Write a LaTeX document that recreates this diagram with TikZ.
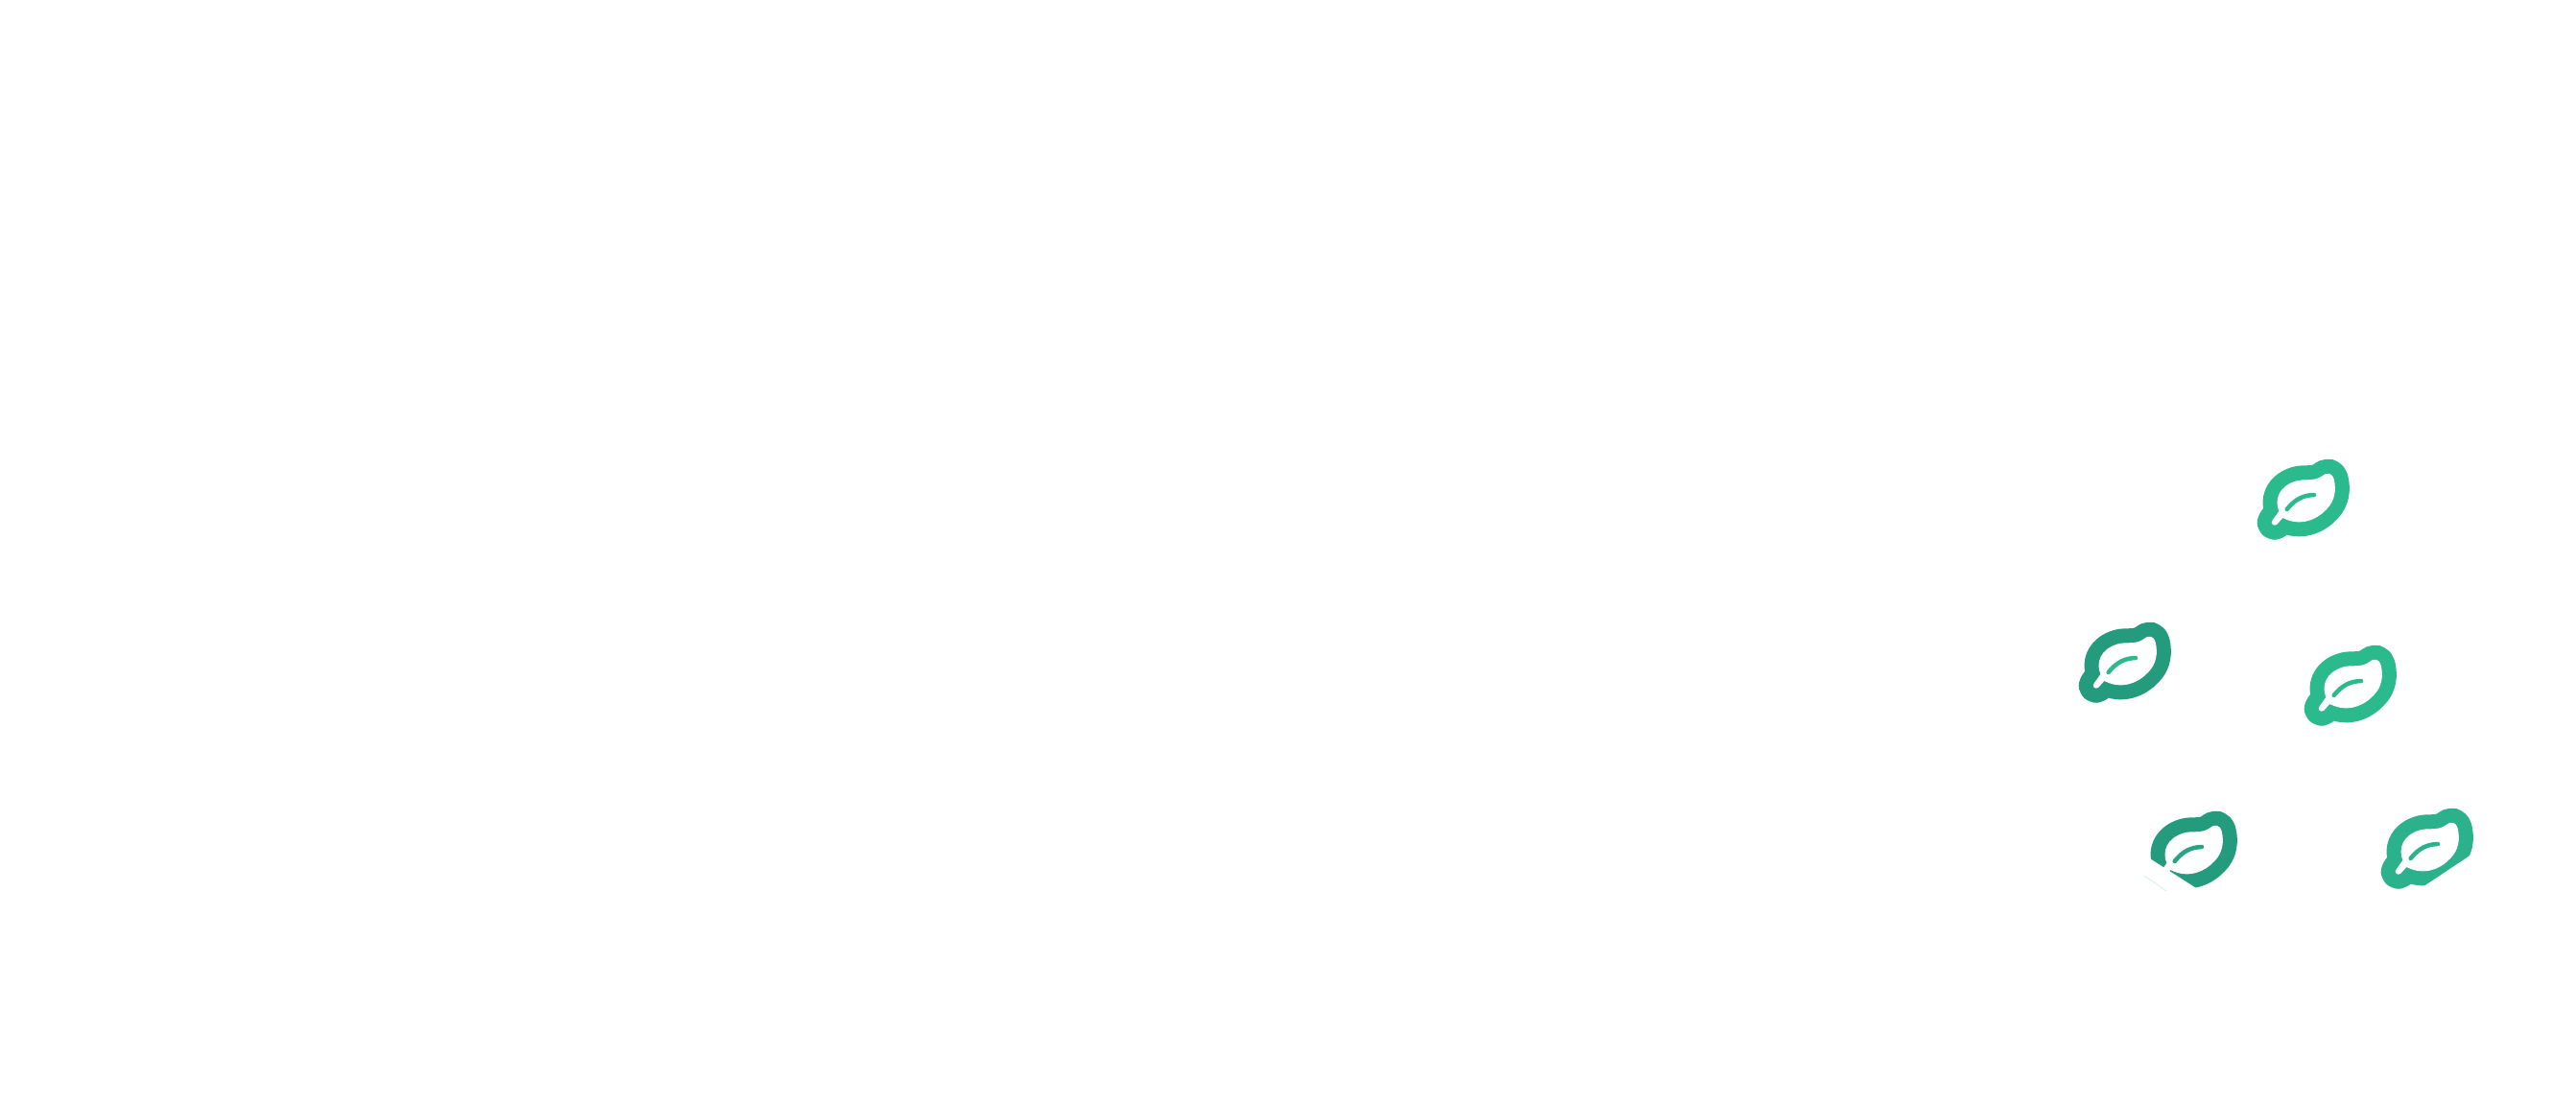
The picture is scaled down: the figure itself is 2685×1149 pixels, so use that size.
\documentclass[tikz,border=0pt]{standalone}
\usepackage{tikz}
\definecolor{leafbright}{HTML}{2BBA8C}
\definecolor{leafdark}{HTML}{249B7C}
\definecolor{leafmid}{HTML}{27A583}
\definecolor{leafsoft}{HTML}{2BB18B}
\definecolor{leafpale}{HTML}{D5F1E9}
\newcommand{\leafoutline}{(50,190) -- (70,162) .. controls (55,125) and (70,83) .. (125,67)
    .. controls (150,60) and (180,70) .. (205,52) .. controls (222,38) and (236,42) .. (242,62)
    .. controls (250,95) and (245,130) .. (220,155) .. controls (190,188) and (138,212) .. (82,183)
    -- (64,203) .. controls (55,212) and (41,200) .. (50,190) -- cycle}
\begin{document}
\begin{tikzpicture}[x=0.01cm, y=-0.01cm,
                    pics/leaficon/.style 2 args={code={
                        \begin{scope}[scale=1/3]
                            \draw[#1, line width=0.3cm, line join=round] \leafoutline;
                            \fill[white] \leafoutline;
                            \draw[#2, line width=0.045cm, line cap=round] (95,156) .. controls (120,125) and (145,112) .. (180,111);
                        \end{scope}
                    }},
                    cutout/.style={fill=white, draw=none}]
                    \useasboundingbox (0,0) rectangle (2685,1149);
                    \pic at (2352,479) {leaficon={leafbright}{leafbright}};
                    \pic at (2166,649) {leaficon={leafdark}{leafbright}};
                    \pic at (2401,673) {leaficon={leafbright}{leafbright}};
                    \pic at (2235,846) {leaficon={leafdark}{leafmid}};
                    \pic at (2481,843) {leaficon={leafsoft}{leafsoft}};
                    \fill[cutout] (2225,885) -- (2300,933) -- (2300,965) -- (2225,965) -- cycle;
                    \fill[cutout] (2588,883) -- (2513,933) -- (2588,933) -- cycle;
                    \draw[leafpale, line width=0.008cm] (2235,913) -- (2258,929);
                \end{tikzpicture}
\end{document}
